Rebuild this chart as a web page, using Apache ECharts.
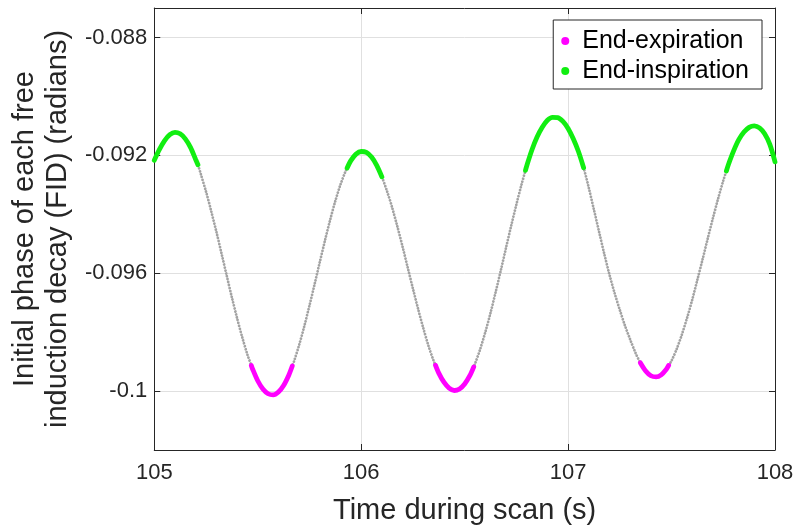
<!DOCTYPE html>
<html>
<head>
<meta charset="utf-8">
<script src="https://cdn.jsdelivr.net/npm/echarts@6/dist/echarts.min.js"></script>
<style>html,body{margin:0;padding:0;background:#fff}#c{width:800px;height:530px}</style>
</head>
<body>
<div id="c"></div>
<script>
// Time of each FID (s)
const timeS = [
105.000,105.025,105.050,105.075,105.100,105.125,105.150,105.175,105.200,105.211,
105.225,105.250,105.275,105.300,105.325,105.350,105.375,105.400,105.425,105.450,
105.469,105.475,105.500,105.525,105.550,105.575,105.600,105.625,105.650,105.667,
105.675,105.700,105.725,105.750,105.775,105.800,105.825,105.850,105.875,105.900,
105.925,105.932,105.950,105.975,106.000,106.025,106.050,106.075,106.100,106.125,
106.150,106.175,106.200,106.225,106.250,106.275,106.300,106.325,106.350,106.359,
106.375,106.400,106.425,106.450,106.475,106.500,106.525,106.544,106.550,106.575,
106.600,106.625,106.650,106.675,106.700,106.725,106.750,106.775,106.794,106.800,
106.825,106.850,106.875,106.900,106.925,106.950,106.975,107.000,107.025,107.050,
107.075,107.100,107.125,107.150,107.175,107.200,107.225,107.250,107.275,107.300,
107.325,107.349,107.375,107.400,107.425,107.450,107.475,107.486,107.500,107.525,
107.550,107.575,107.600,107.625,107.650,107.675,107.700,107.725,107.750,107.765,
107.775,107.800,107.825,107.850,107.875,107.900,107.925,107.950,107.975,108.000
];
// Initial phase of each FID (radians)
const phaseRad = [
-0.09217,-0.09180,-0.09150,-0.09130,-0.09122,-0.09127,-0.09144,-0.09173,-0.09214,-0.09232,
-0.09264,-0.09323,-0.09389,-0.09459,-0.09533,-0.09608,-0.09682,-0.09752,-0.09817,-0.09876,
-0.09913,-0.09925,-0.09965,-0.09993,-0.10009,-0.10013,-0.10003,-0.09981,-0.09946,-0.09915,
-0.09900,-0.09844,-0.09780,-0.09710,-0.09637,-0.09562,-0.09489,-0.09419,-0.09355,-0.09299,
-0.09253,-0.09243,-0.09218,-0.09196,-0.09187,-0.09190,-0.09206,-0.09234,-0.09273,-0.09322,
-0.09378,-0.09442,-0.09510,-0.09581,-0.09652,-0.09721,-0.09786,-0.09846,-0.09897,-0.09912,
-0.09939,-0.09970,-0.09990,-0.09998,-0.09993,-0.09976,-0.09948,-0.09918,-0.09908,-0.09858,
-0.09800,-0.09735,-0.09664,-0.09590,-0.09514,-0.09439,-0.09367,-0.09299,-0.09251,-0.09236,
-0.09182,-0.09138,-0.09105,-0.09081,-0.09071,-0.09072,-0.09085,-0.09109,-0.09144,-0.09187,
-0.09242,-0.09310,-0.09385,-0.09460,-0.09535,-0.09605,-0.09668,-0.09725,-0.09778,-0.09825,
-0.09869,-0.09904,-0.09932,-0.09948,-0.09952,-0.09945,-0.09926,-0.09913,-0.09897,-0.09857,
-0.09808,-0.09752,-0.09690,-0.09622,-0.09553,-0.09482,-0.09413,-0.09347,-0.09286,-0.09253,
-0.09231,-0.09185,-0.09147,-0.09121,-0.09105,-0.09100,-0.09107,-0.09127,-0.09163,-0.09222
];
// Respiratory state: i = end-inspiration, e = end-expiration, - = neither
const phaseClass = (
"iiiiiiiiii" + "----------" + "eeeeeeeeee" + "----------" +
"-iiiiiiii-" + "---------e" + "eeeeeeee--" + "--------ii" +
"iiiiiiiiii" + "i---------" + "-eeeeeee--" + "---------i" +
"iiiiiiiiii").split("");

const xTicks = [105, 106, 107, 108];
const yTicks = [-0.1, -0.096, -0.092, -0.088];
const yTickLabels = ["-0.1", "-0.096", "-0.092", "-0.088"];

const allData = timeS.map((t, k) => [t, phaseRad[k]]);
const pick = c => timeS.map((t, k) => [t, phaseClass[k] === c ? phaseRad[k] : '-']);

const FONT = '"Liberation Sans", Arial, Helvetica, sans-serif';
const INK = '#262626';

const chart = echarts.init(document.getElementById('c'), null, {renderer: 'canvas'});
chart.setOption({
  animation: false,
  backgroundColor: '#fff',
  textStyle: {fontFamily: FONT, color: INK},
  grid: {left: 152, right: 25, top: 8, bottom: 79, containLabel: false},
  legend: {
    data: ['End-expiration', 'End-inspiration'],
    right: 38, top: 20, orient: 'vertical',
    icon: 'circle', itemWidth: 24, itemHeight: 8, itemGap: 4,
    padding: [8, 13, 5, 8],
    borderColor: INK, borderWidth: 1, backgroundColor: '#fff',
    textStyle: {fontFamily: FONT, fontSize: 25, color: '#000', lineHeight: 26}
  },
  xAxis: [{
    type: 'value', min: 105, max: 108, interval: 1,
    name: 'Time during scan (s)', nameLocation: 'middle', nameGap: 46,
    nameTextStyle: {fontFamily: FONT, fontSize: 29, color: INK},
    axisLine: {show: true, lineStyle: {color: INK, width: 1}},
    axisTick: {show: true, inside: true, length: 6, lineStyle: {color: INK}},
    axisLabel: {fontFamily: FONT, fontSize: 22, color: INK, margin: 12,
      customValues: xTicks, formatter: v => String(v)},
    splitLine: {show: true, lineStyle: {color: '#e0e0e0', width: 1}}
  }, {
    type: 'value', min: 105, max: 108, interval: 1, position: 'top',
    axisLine: {show: true, lineStyle: {color: INK, width: 1}},
    axisTick: {show: true, inside: true, length: 6, lineStyle: {color: INK}},
    axisLabel: {show: false}, splitLine: {show: false}
  }],
  yAxis: [{
    type: 'value', min: -0.102, max: -0.087,
    name: 'Initial phase of each free\ninduction decay (FID) (radians)',
    nameLocation: 'middle', nameGap: 64, nameRotate: 90,
    nameTextStyle: {fontFamily: FONT, fontSize: 29, color: INK, lineHeight: 33, align: 'center'},
    axisLine: {show: true, lineStyle: {color: INK, width: 1}},
    axisTick: {show: true, inside: true, length: 6, lineStyle: {color: INK}, customValues: yTicks},
    axisLabel: {fontFamily: FONT, fontSize: 22, color: INK, margin: 7,
      customValues: yTicks,
      formatter: v => { const k = yTicks.findIndex(y => Math.abs(y - v) < 1e-9); return k >= 0 ? yTickLabels[k] : ''; }},
    splitLine: {show: true, lineStyle: {color: '#e0e0e0', width: 1}}
  }, {
    type: 'value', min: -0.102, max: -0.087, position: 'right',
    axisLine: {show: true, lineStyle: {color: INK, width: 1}},
    axisTick: {show: true, inside: true, length: 6, lineStyle: {color: INK}, customValues: yTicks},
    axisLabel: {show: false}, splitLine: {show: false}
  }],
  series: [{
    name: 'All FIDs', type: 'line', data: allData, smooth: 0.3,
    showSymbol: false, z: 2,
    lineStyle: {color: '#a3a3a3', width: 2.8, type: [0.01, 3], cap: 'round'}
  }, {
    name: 'End-expiration', type: 'line', data: pick('e'), smooth: 0.3,
    showSymbol: false, z: 3, connectNulls: false,
    itemStyle: {color: '#ff00ff'},
    lineStyle: {color: '#ff00ff', width: 4.8, cap: 'round'}
  }, {
    name: 'End-inspiration', type: 'line', data: pick('i'), smooth: 0.3,
    showSymbol: false, z: 3, connectNulls: false,
    itemStyle: {color: '#11ee11'},
    lineStyle: {color: '#11ee11', width: 4.8, cap: 'round'}
  }]
});
</script>
</body>
</html>
